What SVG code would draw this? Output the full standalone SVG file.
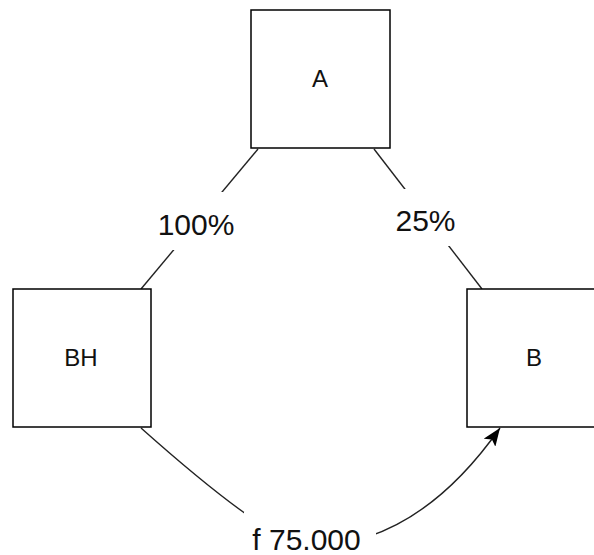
<svg xmlns="http://www.w3.org/2000/svg" width="594" height="555" viewBox="0 0 594 555">
  <style>
    .box { fill: #ffffff; stroke: #000000; stroke-width: 1.5; }
    .nlabel { font-family: "Liberation Sans", Arial, sans-serif; font-size: 24px; fill: #111111; text-anchor: middle; }
    .edge { fill: none; stroke: #222222; stroke-width: 1.4; }
    .elabel { font-family: "Liberation Sans", Arial, sans-serif; font-size: 30px; fill: #111111; text-anchor: middle; }
    .lbg { fill: #ffffff; stroke: none; }
  </style>
  <defs>
    <marker id="arrow" markerUnits="userSpaceOnUse" markerWidth="20" markerHeight="14" refX="18" refY="7" orient="auto" viewBox="0 0 20 14">
      <path d="M0,0 L18,7 L0,14 L4,7 Z" fill="#000000"/>
    </marker>
  </defs>
  <rect width="594" height="555" fill="#ffffff"/>
  <g id="connectors">
    <g id="edge-A-BH">
      <line class="edge" x1="258" y1="149" x2="141" y2="289"/>
      <rect class="lbg" x="150" y="192" width="92" height="58"/>
      <text class="elabel" x="196" y="235">100%</text>
    </g>
    <g id="edge-A-B">
      <line class="edge" x1="374" y1="149" x2="482" y2="289"/>
      <rect class="lbg" x="388" y="189" width="74" height="57"/>
      <text class="elabel" x="425.5" y="231">25%</text>
    </g>
    <g id="edge-BH-B">
      <path class="edge" d="M141,428 Q273.5,546 310,546 Q416.7,546 500,428" marker-end="url(#arrow)"/>
      <rect class="lbg" x="244" y="512" width="132" height="43"/>
      <text class="elabel" x="306.5" y="550">f 75.000</text>
    </g>
  </g>
  <g id="node-A">
    <rect class="box" x="251" y="10" width="139" height="138"/>
    <text class="nlabel" x="320" y="87">A</text>
  </g>
  <g id="node-BH">
    <rect class="box" x="13" y="289" width="138" height="138"/>
    <text class="nlabel" x="81" y="366">BH</text>
  </g>
  <g id="node-B">
    <rect class="box" x="467" y="289" width="138" height="138"/>
    <text class="nlabel" x="534" y="366">B</text>
  </g>
</svg>
